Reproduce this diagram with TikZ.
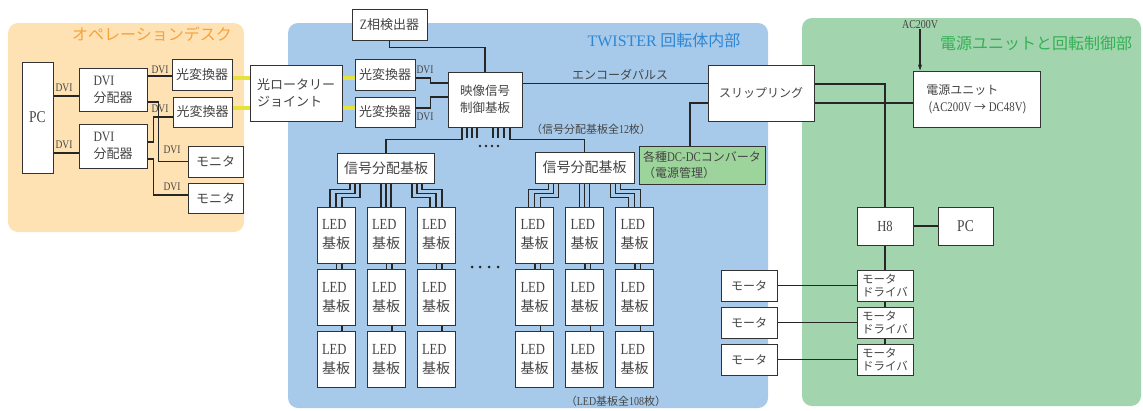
\documentclass[tikz,border=0pt]{standalone}
\usepackage{fontspec}
\setmainfont{Noto Sans CJK JP}
\newfontfamily\lat[FakeStretch=0.82,Scale=1.1]{Liberation Serif}
\newfontfamily\latw{Liberation Serif}
\usetikzlibrary{arrows.meta}
\definecolor{orbg}{HTML}{FFE2B4}
\definecolor{ortx}{HTML}{F5A23C}
\definecolor{blbg}{HTML}{A7CAEB}
\definecolor{bltx}{HTML}{2F86D2}
\definecolor{grbg}{HTML}{A2D5AE}
\definecolor{grtx}{HTML}{34B055}
\definecolor{dcfill}{HTML}{9DD49B}
\definecolor{yelc}{HTML}{E6E23C}
\definecolor{txtc}{HTML}{444444}
\definecolor{linec}{HTML}{333333}
\tikzset{
  bx/.style={draw=linec, fill=white, line width=1pt, inner sep=0pt, text=txtc,
    font=\fontsize{13}{17}\selectfont, align=center},
  ln/.style={draw=black!85, line width=1.1pt},
  yel/.style={draw=yelc, line width=4pt},
  lbl/.style={inner sep=0pt, text=txtc},
  dvil/.style={inner sep=0pt, text=txtc, font=\lat\fontsize{10.5}{11}\selectfont},
  ttl/.style={inner sep=0pt, font=\fontsize{16}{16}\selectfont}
}
\begin{document}
\begin{tikzpicture}[x=1pt,y=-1pt]
\path[use as bounding box] (0,0) rectangle (1143,410);
% regions
\fill[orbg, rounded corners=10pt] (8,23) rectangle (244,232);
\fill[blbg, rounded corners=10pt] (288,23) rectangle (768,408);
\fill[grbg, rounded corners=10pt] (802,18) rectangle (1141,406);
\node[ttl, text=ortx] (t1) at (152,34) {オペレーションデスク};
\node[ttl, text=bltx] (t2) at (664,40) {{\latw TWISTER} 回転体内部};
\node[ttl, text=grtx] (t3) at (1036,43) {電源ユニットと回転制御部};

% left
\node[bx, minimum width=31pt, minimum height=111pt, font=\lat\fontsize{15}{18}\selectfont] (pcL) at (37.5,117.5) {PC};
\node[bx, minimum width=68pt, minimum height=43pt, align=left] (dvi1) at (113,89.5) {{\lat DVI}\\分配器};
\node[bx, minimum width=68pt, minimum height=44pt, align=left] (dvi2) at (113,146) {{\lat DVI}\\分配器};
\node[bx, minimum width=60pt, minimum height=31pt] (conv1) at (202,74.5) {光変換器};
\node[bx, minimum width=59pt, minimum height=30pt] (conv2) at (202.5,112) {光変換器};
\node[bx, minimum width=55pt, minimum height=31pt] (mon1) at (215.5,161.5) {モニタ};
\node[bx, minimum width=55pt, minimum height=30pt] (mon2) at (215.5,198) {モニタ};

\draw[ln] ([yshift=-6.5pt]dvi1.west) -- ([yshift=-6.5pt]dvi1.west -| pcL.east);
\node[dvil] (d1) at (64,88) {DVI};
\draw[ln] ([yshift=-7pt]dvi2.west) -- ([yshift=-7pt]dvi2.west -| pcL.east);
\node[dvil] (d2) at (64,145) {DVI};
\draw[ln] ([yshift=-1.5pt]conv1.west) -- ([yshift=-1.5pt]conv1.west -| dvi1.east);
\node[dvil] (d3) at (160,70) {DVI};
\draw[ln] ([yshift=-12.5pt]dvi1.east) -- ++(11,0) |- (mon1.west);
\node[dvil] (d4) at (172,150) {DVI};
\draw[ln] ([yshift=4pt]dvi2.east) -- ++(6,0) |- ([yshift=-5pt]conv2.west);
\node[dvil] (d5) at (160,109) {DVI};
\draw[ln] ([yshift=-13pt]dvi2.east) -- ++(6,0) |- ([yshift=3pt]mon2.west);
\node[dvil] (d6) at (172,187) {DVI};

% center
\node[bx, minimum width=92pt, minimum height=56pt, align=left] (rot) at (296,93) {光ロータリー\\ジョイント};
\node[bx, minimum width=60pt, minimum height=31pt] (conv3) at (385,74.5) {光変換器};
\node[bx, minimum width=60pt, minimum height=30pt] (conv4) at (385,112) {光変換器};
\node[bx, minimum width=75pt, minimum height=31pt] (zph) at (389.5,24.5) {{\lat Z}相検出器};
\node[bx, minimum width=74pt, minimum height=55pt, font=\fontsize{12.5}{17}\selectfont] (vid) at (485,99.5) {映像信号\\制御基板};
\node[bx, minimum width=97pt, minimum height=30pt, font=\fontsize{14}{17}\selectfont] (sig1) at (386,168) {信号分配基板};
\node[bx, minimum width=99pt, minimum height=31pt, font=\fontsize{14}{17}\selectfont] (sig2) at (584.5,167.5) {信号分配基板};
\node[bx, minimum width=106pt, minimum height=56pt, font=\fontsize{12}{16}\selectfont] (slip) at (761,93) {スリップリング};
\node[bx, fill=dcfill, minimum width=126pt, minimum height=38pt, align=left, font=\fontsize{12}{16}\selectfont] (dcdc) at (702,165) {各種{\lat DC-DC}コンバータ\\（電源管理）};

\draw[yel] ([yshift=15.5pt]rot.west) -- ([yshift=15.5pt]rot.west -| conv1.east);
\draw[yel] ([yshift=-15pt]rot.west) -- ([yshift=-15pt]rot.west -| conv2.east);
\draw[yel] ([yshift=15.5pt]rot.east) -- ([yshift=15.5pt]rot.east -| conv3.west);
\draw[yel] ([yshift=-15pt]rot.east) -- ([yshift=-15pt]rot.east -| conv4.west);

\draw[ln] (zph.south) -- ++(0,7) -| (vid.north);
\draw[ln] ([yshift=-3.5pt]conv3.east) -- ++(15,0) |- ([yshift=16.5pt]vid.west);
\node[dvil] (d7) at (425,70) {DVI};
\draw[ln] ([yshift=4pt]conv4.east) -- ++(15,0) |- ([yshift=2.5pt]vid.west);
\node[dvil] (d8) at (425,117) {DVI};

\draw[ln] ([yshift=16pt]vid.east) -- ([yshift=16pt]vid.east -| slip.west);
\node[lbl, font=\fontsize{12}{12}\selectfont] (enc) at (620,75) {エンコーダパルス};
\draw[ln] ([xshift=-12pt]dcdc.north) |- ([yshift=-10pt]slip.west);

% video board stubs
\foreach \d in {-18,-13,-8,8,13,19} \draw[ln] ([xshift=\d pt]vid.south) -- ++(0,10);
\draw[ln] ([xshift=-23pt]vid.south) -- ++(0,12) -| (sig1.north);
\draw[ln] ([xshift=25pt]vid.south) -- ++(0,12) -| (sig2.north);
\foreach \x in {480,486,492,498} \fill[black!85] (\x,146) circle[radius=1.3pt];
\node[lbl, font=\fontsize{11}{11}\selectfont] (n12) at (591,129) {（信号分配基板全{\lat 12}枚）};

% LED boards
\foreach \g/\S in {1/386, 2/584.5} {
  \foreach \c/\dx in {1/-50, 2/0, 3/50} {
    \foreach \r/\cy in {1/235, 2/297.5, 3/359.5} {
      \node[bx, minimum width=38pt, minimum height=56pt, align=left, font=\fontsize{14}{19}\selectfont] (l\g\c\r) at (\S+\dx,\cy) {{\lat LED}\\基板};
    }
  }
}
\foreach \g in {1,2} {
  \foreach \c in {1,2,3} {
    \draw[ln] ([xshift=0.5pt]l\g\c1.south) -- ([xshift=0.5pt]l\g\c2.north);
    \draw[ln] ([xshift=6pt]l\g\c1.south) -- ([xshift=6pt]l\g\c2.north);
    \draw[ln] ([xshift=6pt]l\g\c2.south) -- ([xshift=6pt]l\g\c3.north);
  }
  \draw[ln] ([xshift=-36pt]sig\g.south) -- ++(0,6) -| ([xshift=-6pt]l\g11.north);
  \draw[ln] ([xshift=-31pt]sig\g.south) -- ++(0,10) -| (l\g11.north);
  \draw[ln] ([xshift=-26pt]sig\g.south) -- ++(0,14) -| ([xshift=6pt]l\g11.north);
  \draw[ln] ([xshift=-5pt]l\g21.north) -- ([xshift=-5pt]l\g21.north |- sig\g.south);
  \draw[ln] (l\g21.north) -- (l\g21.north |- sig\g.south);
  \draw[ln] ([xshift=5pt]l\g21.north) -- ([xshift=5pt]l\g21.north |- sig\g.south);
  \draw[ln] ([xshift=26pt]sig\g.south) -- ++(0,14) -| ([xshift=-6pt]l\g31.north);
  \draw[ln] ([xshift=31pt]sig\g.south) -- ++(0,10) -| (l\g31.north);
  \draw[ln] ([xshift=36pt]sig\g.south) -- ++(0,6) -| ([xshift=6pt]l\g31.north);
}
\foreach \x in {472,480,489,498} \fill[black!85] (\x,267) circle[radius=1.5pt];
\node[lbl, font=\fontsize{11}{11}\selectfont] (n108) at (616,401) {（{\lat LED}基板全{\lat 108}枚）};

% right
\node[bx, minimum width=127pt, minimum height=56pt, align=left, font=\fontsize{12}{17}\selectfont] (psu) at (976.5,99) {電源ユニット\\\hspace{2pt}({\lat AC200V} → {\lat DC48V})};
\node[lbl, font=\lat\fontsize{11}{12}\selectfont] (ac) at (920,25) {AC200V};
\draw[ln,-{Stealth[length=6pt,width=4pt]}] (ac.south) -- (ac.south |- psu.north);
\node[bx, minimum width=56pt, minimum height=38pt, font=\lat\fontsize{14}{17}\selectfont] (h8) at (885,226) {H8};
\node[bx, minimum width=55pt, minimum height=38pt, font=\lat\fontsize{15}{18}\selectfont] (pcR) at (965.5,226) {PC};
\draw[ln] ([yshift=9pt]slip.east) -| (h8.north);
\draw[ln] ([yshift=-10pt]slip.east) -- ([yshift=-10pt]slip.east -| psu.west);
\draw[ln] (h8) -- (pcR);
\foreach \i/\cy in {1/285.5, 2/322.5, 3/359.5} {
  \node[bx, minimum width=56pt, minimum height=31pt, font=\fontsize{12}{12}\selectfont] (mot\i) at (749,\cy) {モータ};
  \node[bx, minimum width=56pt, minimum height=31pt, align=left, font=\fontsize{11.5}{13.5}\selectfont] (drv\i) at (885,\cy) {モータ\\ドライバ};
  \draw[ln] (mot\i) -- (drv\i);
}
\draw[ln] (h8) -- (drv1);
\draw[ln] (drv1) -- (drv2);
\draw[ln] (drv2) -- (drv3);
\end{tikzpicture}
\end{document}
